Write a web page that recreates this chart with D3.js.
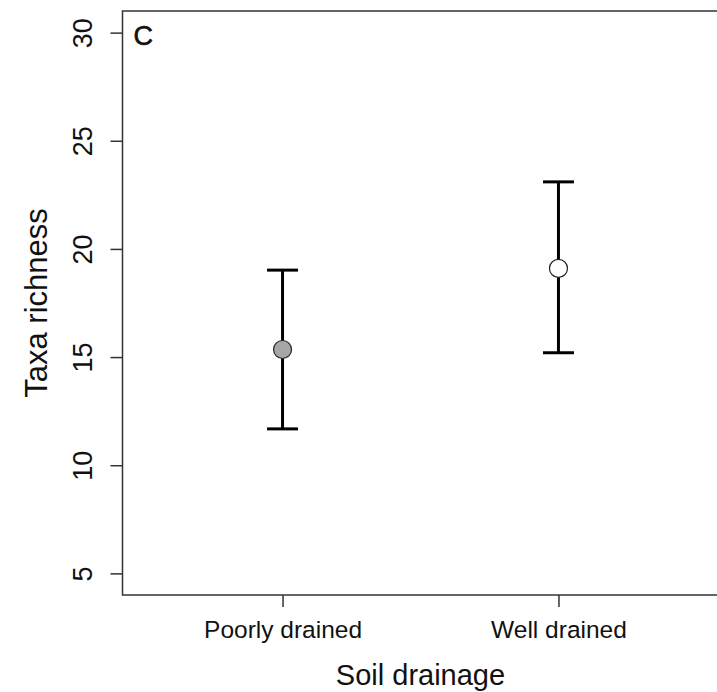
<!DOCTYPE html>
<html>
<head>
<meta charset="utf-8">
<script src="https://cdn.jsdelivr.net/npm/d3@7"></script>
<style>
  body { margin: 0; background: #fff; }
  text { font-family: "Liberation Sans", Arial, sans-serif; fill: #111; }
</style>
</head>
<body>
<svg width="717" height="692"></svg>
<script>
const categories = ["Poorly drained", "Well drained"];
const means = [15.35, 19.1];
const lower = [11.68, 15.2];
const upper = [19.02, 23.1];
const fills = ["#a6a6a6", "#ffffff"];
const yTicks = [5, 10, 15, 20, 25, 30];

const svg = d3.select("svg");
const plotLeft = 122.5, plotRight = 718.5, plotTop = 11, plotBottom = 595;

// R-style 4% padding on both axes
const x = d3.scaleLinear().domain([0.42, 2.58]).range([plotLeft, plotRight]);
const y = d3.scaleLinear().domain([4, 31]).range([plotBottom, plotTop]);

svg.append("rect")
  .attr("x", plotLeft).attr("y", plotTop)
  .attr("width", plotRight - plotLeft).attr("height", plotBottom - plotTop)
  .attr("fill", "none").attr("stroke", "#333").attr("stroke-width", 1.5);

const yAxis = svg.append("g")
  .attr("transform", `translate(${plotLeft},0)`)
  .call(d3.axisLeft(y).tickValues(yTicks).tickSize(12).tickFormat(d3.format("d")));
yAxis.select(".domain").remove();
yAxis.selectAll("line").attr("stroke", "#333").attr("stroke-width", 1.5);
yAxis.selectAll("text")
  .attr("x", 0).attr("y", 0).attr("dy", 0)
  .attr("transform", "translate(-30.5,0) rotate(-90)")
  .attr("text-anchor", "middle")
  .style("font-size", "27px").style("font-family", "Liberation Sans, Arial, sans-serif");

const xAxis = svg.append("g")
  .attr("transform", `translate(0,${plotBottom})`)
  .call(d3.axisBottom(x).tickValues([1, 2]).tickSize(12).tickFormat(d => categories[d - 1]));
xAxis.select(".domain").remove();
xAxis.selectAll("line").attr("stroke", "#333").attr("stroke-width", 1.5);
xAxis.selectAll("text")
  .attr("y", 42.7).attr("dy", 0)
  .style("font-size", "24.5px").style("font-family", "Liberation Sans, Arial, sans-serif");

svg.append("text")
  .attr("x", (plotLeft + plotRight) / 2).attr("y", 685)
  .attr("text-anchor", "middle")
  .style("font-size", "29px")
  .text("Soil drainage");

svg.append("text")
  .attr("transform", `translate(47,${(plotTop + plotBottom) / 2}) rotate(-90)`)
  .attr("text-anchor", "middle")
  .style("font-size", "31px")
  .text("Taxa richness");

svg.append("text")
  .attr("x", 133.5).attr("y", 45)
  .style("font-size", "27px")
  .style("stroke", "#111").style("stroke-width", 0.6)
  .text("C");

const g = svg.append("g");
const idx = d3.range(categories.length);
const capHalf = 15.5;

g.selectAll(".stem").data(idx).enter().append("line")
  .attr("x1", i => x(i + 1)).attr("x2", i => x(i + 1))
  .attr("y1", i => y(lower[i])).attr("y2", i => y(upper[i]))
  .attr("stroke", "#000").attr("stroke-width", 3);

[lower, upper].forEach(arr => {
  g.selectAll(null).data(idx).enter().append("line")
    .attr("x1", i => x(i + 1) - capHalf).attr("x2", i => x(i + 1) + capHalf)
    .attr("y1", i => y(arr[i])).attr("y2", i => y(arr[i]))
    .attr("stroke", "#000").attr("stroke-width", 3);
});

g.selectAll("circle").data(idx).enter().append("circle")
  .attr("cx", i => x(i + 1)).attr("cy", i => y(means[i]))
  .attr("r", 9)
  .attr("fill", i => fills[i])
  .attr("stroke", "#222").attr("stroke-width", 1.2);
</script>
</body>
</html>
